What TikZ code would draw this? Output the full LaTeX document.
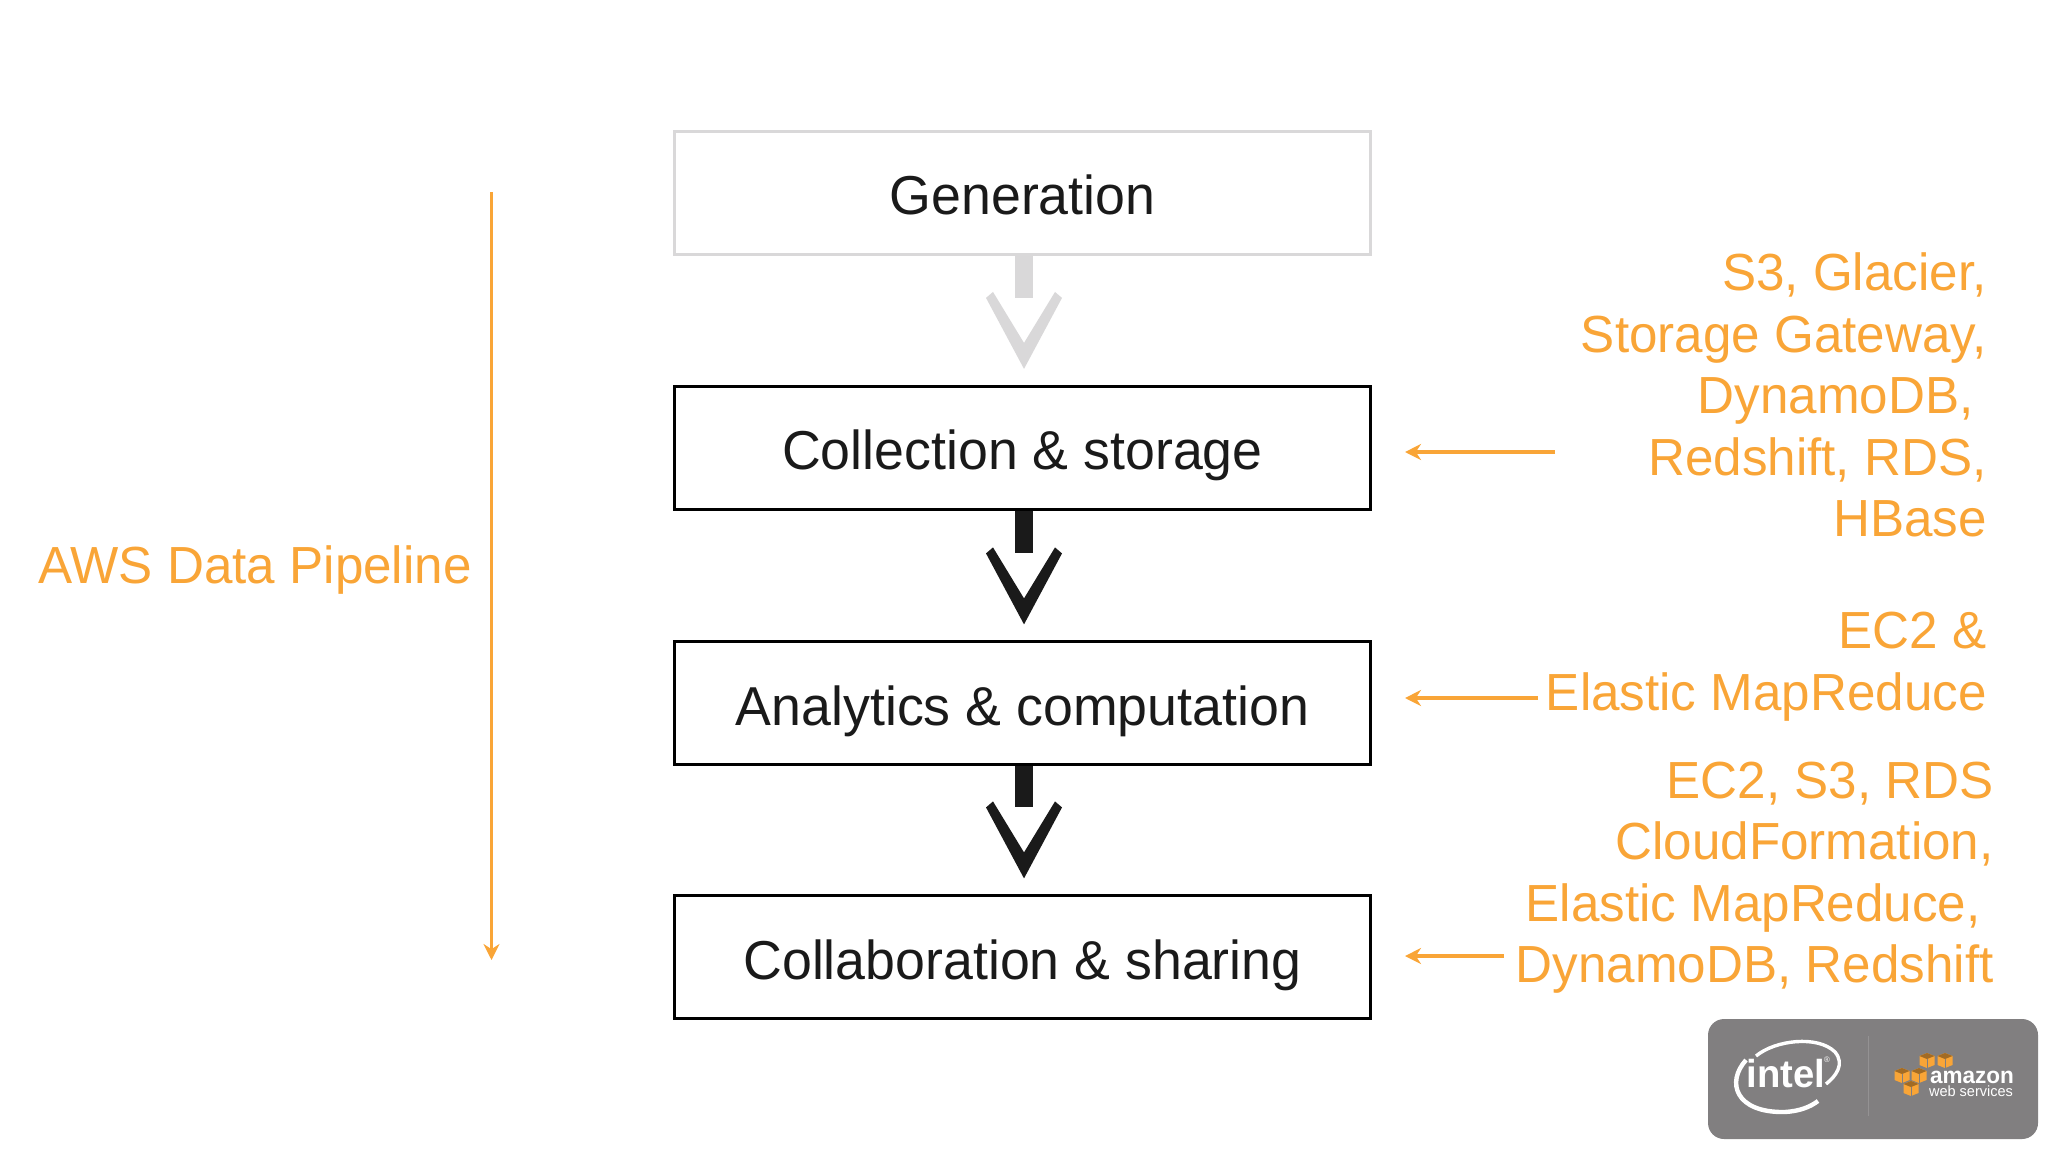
\documentclass[tikz,border=0pt]{standalone}
\usepackage{fontspec}
\setmainfont[FakeStretch=0.98]{Liberation Sans}
\usetikzlibrary{arrows.meta}
\usetikzlibrary{positioning}
\definecolor{awsorange}{HTML}{F9A537}
\definecolor{flowgrey}{HTML}{D9D8D9}
\definecolor{flowblack}{HTML}{1A1A1A}
\definecolor{logogrey}{HTML}{817F80}
\pgfdeclarearrow{
  name = Flow Vee,
  setup code = {
    \pgfarrowssettipend{0pt}
    \pgfarrowssetlineend{-35.5pt}
    \pgfarrowssetvisualbackend{-38.5pt}
    \pgfarrowssetbackend{-38.5pt}
    \pgfarrowshullpoint{0pt}{0pt}
    \pgfarrowsupperhullpoint{-38.5pt}{19pt}
  },
  drawing code = {
    \pgfpathmoveto{\pgfqpoint{0pt}{0pt}}
    \pgfpathlineto{\pgfqpoint{-35.5pt}{19pt}}
    \pgfpathlineto{\pgfqpoint{-38.5pt}{15.5pt}}
    \pgfpathlineto{\pgfqpoint{-13pt}{0pt}}
    \pgfpathlineto{\pgfqpoint{-38.5pt}{-15.5pt}}
    \pgfpathlineto{\pgfqpoint{-35.5pt}{-19pt}}
    \pgfpathclose
    \pgfusepathqfill
  }
}
\tikzset{
  stage/.style = {
    draw, line width=1.5pt, minimum width=348pt, minimum height=61.5pt,
    inner sep=0pt, text height=22pt, text depth=0pt,
    font=\fontsize{27.4}{31}\selectfont, text=flowblack  },
  service/.style = {
    align=right, anchor=east, text=awsorange, inner sep=0pt,
    font=\fontsize{26.1}{30.75}\selectfont  }
}

\begin{document}
\begin{tikzpicture}[x=.5pt,y=-.5pt,
flow_style/.style={line width=9pt,shorten >=7.8pt,-{Flow Vee},
  transform canvas={xshift=.75pt}},
tool_style/.style={awsorange,line width=1.8pt,
  -{Stealth[length=8pt,width=8pt,inset=2.6pt,sep=.5pt]}},
cube_top/.style={fill=awsorange!65!black}]

\useasboundingbox (0,0) rectangle (2048,1152);

% stages
\node[stage,draw=flowgrey] (gen) at (1022.5,192.5) {Generation};
\node[stage,draw=black] (coll) at (1022.5,447.5) {Collection \& storage};
\node[stage,draw=black] (anal) at (1022.5,703) {Analytics \& computation};
\node[stage,draw=black] (collab) at (1022.5,957) {Collaboration \& sharing};

\draw[flow_style,flowgrey] (gen.south) -- (coll.north);
\draw[flow_style,flowblack] (coll.south) -- (anal.north);
\draw[flow_style,flowblack] (anal.south) -- (collab.north);

% services
\node[service] (storelist) at (1987,395) {S3, Glacier,\\Storage Gateway,\\DynamoDB,\kern6.5pt\null\\Redshift, RDS,\\HBase};
\node[service] (analist) at (1987,666.5) {EC2 \&\\Elastic MapReduce};
\node[service] (sharelist) at (1994,877.5) {EC2, S3, RDS\\CloudFormation,\\Elastic MapReduce,\kern6.5pt\null\\DynamoDB, Redshift};

\coordinate (storefrom) at (1555,452);
\coordinate (anafrom) at (1538,698);
\coordinate (sharefrom) at (1504,956);
\foreach \y/\z in {storefrom/coll,anafrom/anal,sharefrom/collab}{
 \draw[tool_style,shorten >=16pt] (\y) -- (\y -| \z.east);
}

% pipeline
\coordinate (pipetop) at (491.5,192);
\coordinate (pipebot) at (491.5,961);
\draw[tool_style] (pipetop) -- (pipebot);
\node[service,anchor=east] (pipelabel) at (472,570) {AWS Data Pipeline};

% logo
\fill[logogrey,rounded corners=8pt] (1708,1019) rectangle (2038,1139);
\draw[logogrey!85!white,line width=.5pt] (1868,1036) -- (1868,1116);
\node[white,inner sep=0pt,font=\bfseries\fontsize{19.5}{20}\selectfont] (intel) at (1786,1074) {intel};
\node[white,inner sep=0pt,font=\fontsize{4}{4}\selectfont] (regmark) at (1827,1060) {\textregistered};
\draw[white,line width=1.7pt] (1756,1056) .. controls (1775,1040) and (1818,1035) .. (1835,1052)
  .. controls (1845,1064) and (1836,1076) .. (1826,1084);
\draw[white,line width=2.2pt] (1746,1060) .. controls (1726,1082) and (1735,1113) .. (1785,1112)
  .. controls (1800,1111) and (1810,1107) .. (1818,1101);
\node[white,inner sep=0pt,font=\bfseries\fontsize{11.5}{12}\selectfont] (amazon) at (1972,1077) {amazon};
\node[white,inner sep=0pt,font=\fontsize{7.4}{8}\selectfont] (webserv) at (1971,1091) {web services};
\foreach \x/\y in {1927/1060,1945/1060,1902/1075,1919/1075,1911/1088}{
 \fill[awsorange] (\x,\y-7) -- ++(7.5,3) -- ++(0,9) -- ++(-7.5,3) -- ++(-7.5,-3) -- ++(0,-9) -- cycle;
 \fill[cube_top] (\x,\y-7) -- ++(7.5,3) -- ++(-7.5,3) -- ++(-7.5,-3) -- cycle;
 \draw[logogrey,line width=.3pt] (\x,\y-1) -- (\x,\y+8);
}
\end{tikzpicture}
\end{document}
